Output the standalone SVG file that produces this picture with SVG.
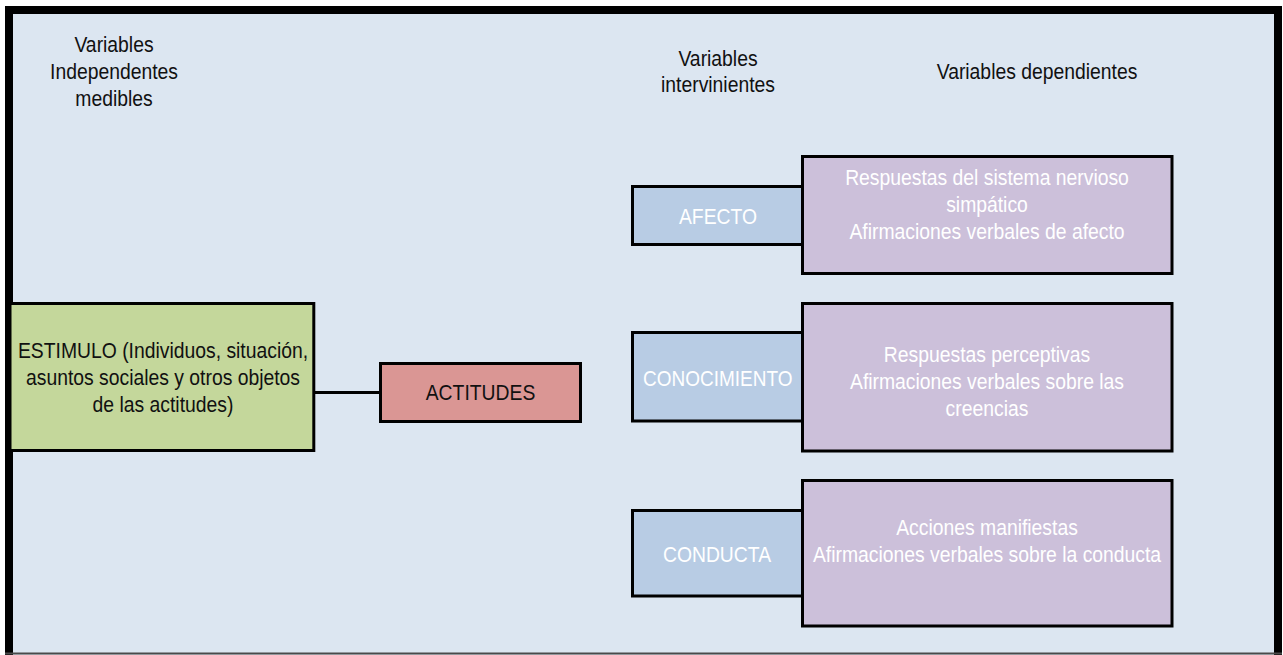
<svg xmlns="http://www.w3.org/2000/svg" width="1283" height="655" viewBox="0 0 1283 655">
  <style>
    .t { font-family: "Liberation Sans", Arial, sans-serif; font-size: 21.5px; text-anchor: middle; }
    .dark { fill: #111111; }
    .light { fill: #ffffff; }
    .box { stroke: #000000; stroke-width: 3; }
    .green { fill: #C4D79B; }
    .red { fill: #DA9694; }
    .blue { fill: #B8CCE4; }
    .purple { fill: #CCC0DA; }
    .conn { stroke: #000000; stroke-width: 3; fill: none; }
  </style>
  <rect x="0" y="0" width="1283" height="655" fill="#ffffff"/>
  <g id="frame">
    <rect x="9" y="10" width="1269" height="700" fill="#DCE6F1" stroke="#000000" stroke-width="8"/>
    <line x1="5" y1="653.5" x2="1282" y2="653.5" stroke="#4a4a4a" stroke-width="2"/>
  </g>
  <g id="headers">
    <text class="t dark" transform="translate(114,0) scale(0.9,1)"><tspan x="0" y="52">Variables</tspan><tspan x="0" y="79">Independentes</tspan><tspan x="0" y="106">medibles</tspan></text>
    <text class="t dark" transform="translate(718,0) scale(0.9,1)"><tspan x="0" y="66">Variables</tspan><tspan x="0" y="92">intervinientes</tspan></text>
    <text class="t dark" transform="translate(1037,0) scale(0.9,1)"><tspan x="0" y="79">Variables dependientes</tspan></text>
  </g>
  <g id="connectors">
    <line class="conn" x1="313.8" y1="392.5" x2="380.5" y2="392.5"/>
  </g>
  <g id="estimulo">
    <rect class="box green" x="10" y="303.5" width="303.8" height="147"/>
    <text class="t dark" transform="translate(163,0) scale(0.9,1)"><tspan x="0" y="358">ESTIMULO (Individuos, situación,</tspan><tspan x="0" y="385">asuntos sociales y otros objetos</tspan><tspan x="0" y="412">de las actitudes)</tspan></text>
  </g>
  <g id="actitudes">
    <rect class="box red" x="380.5" y="363.5" width="200" height="58"/>
    <text class="t dark" transform="translate(480.5,0) scale(0.9,1)" x="0" y="400">ACTITUDES</text>
  </g>
  <g id="afecto">
    <rect class="box blue" x="632.5" y="186.5" width="170" height="58"/>
    <text class="t light" transform="translate(718,0) scale(0.9,1)" x="0" y="224">AFECTO</text>
  </g>
  <g id="afecto-dep">
    <rect class="box purple" x="802.5" y="156.5" width="369.5" height="117"/>
    <text class="t light" transform="translate(987,0) scale(0.9,1)"><tspan x="0" y="185">Respuestas del sistema nervioso</tspan><tspan x="0" y="212">simpático</tspan><tspan x="0" y="239">Afirmaciones verbales de afecto</tspan></text>
  </g>
  <g id="conocimiento">
    <rect class="box blue" x="632.5" y="332.5" width="170" height="88.5"/>
    <text class="t light" transform="translate(717.7,0) scale(0.9,1)" x="0" y="385.7" textLength="166" lengthAdjust="spacingAndGlyphs">CONOCIMIENTO</text>
  </g>
  <g id="conocimiento-dep">
    <rect class="box purple" x="802.5" y="303.5" width="369.5" height="147.5"/>
    <text class="t light" transform="translate(987,0) scale(0.9,1)"><tspan x="0" y="362">Respuestas perceptivas</tspan><tspan x="0" y="389">Afirmaciones verbales sobre las</tspan><tspan x="0" y="416">creencias</tspan></text>
  </g>
  <g id="conducta">
    <rect class="box blue" x="632.5" y="510.5" width="170" height="85.5"/>
    <text class="t light" transform="translate(717,0) scale(0.9,1)" x="0" y="562.3">CONDUCTA</text>
  </g>
  <g id="conducta-dep">
    <rect class="box purple" x="802.5" y="480.5" width="369.5" height="145.5"/>
    <text class="t light" transform="translate(987,0) scale(0.9,1)"><tspan x="0" y="535">Acciones manifiestas</tspan><tspan x="0" y="562">Afirmaciones verbales sobre la conducta</tspan></text>
  </g>
</svg>
